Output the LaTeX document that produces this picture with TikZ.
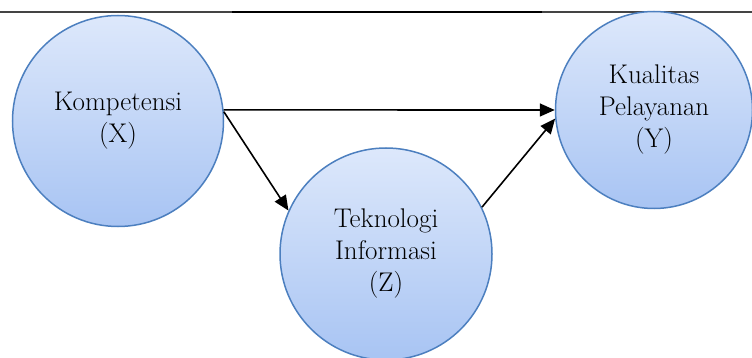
\documentclass[tikz,border=0pt]{standalone}
\usetikzlibrary{arrows.meta}
\definecolor{ballTop}{HTML}{DDE8FB}
\definecolor{ballBottom}{HTML}{A8C4F3}
\definecolor{ballEdge}{HTML}{4C7FBF}
\definecolor{ruleGray}{HTML}{444444}
\tikzset{
  var/.style={circle, draw=ballEdge, line width=1.5pt,
    top color=ballTop, bottom color=ballBottom,
    align=center, inner sep=0pt,
    font=\fontsize{27}{32}\selectfont},
  link/.style={line width=1.6pt, -{Triangle[length=15pt,width=13pt]}},
}
\begin{document}
\begin{tikzpicture}[x=1pt,y=-1pt]
\useasboundingbox (0,0) rectangle (752,358);
% header rule
\draw[ruleGray, line width=1.3pt] (0,12) -- (232,12);
\draw[black, line width=2.6pt] (232,12) -- (542,12);
\draw[ruleGray, line width=1.3pt] (542,12) -- (752,12);
% variables
\node[var, minimum size=211pt] (X) at (118,121) {Kompetensi\\(X)};
\node[var, minimum size=212pt] (Z) at (386,254) {Teknologi\\Informasi\\(Z)};
\node[var, minimum size=197pt] (Y) at (654,110) {Kualitas\\Pelayanan\\(Y)};
% paths
\draw[link] (X.6) -- (Y.180);
\draw[link] (X.5) -- (Z.156);
\draw[link] (Z.26) -- (Y.185);
\end{tikzpicture}
\end{document}
